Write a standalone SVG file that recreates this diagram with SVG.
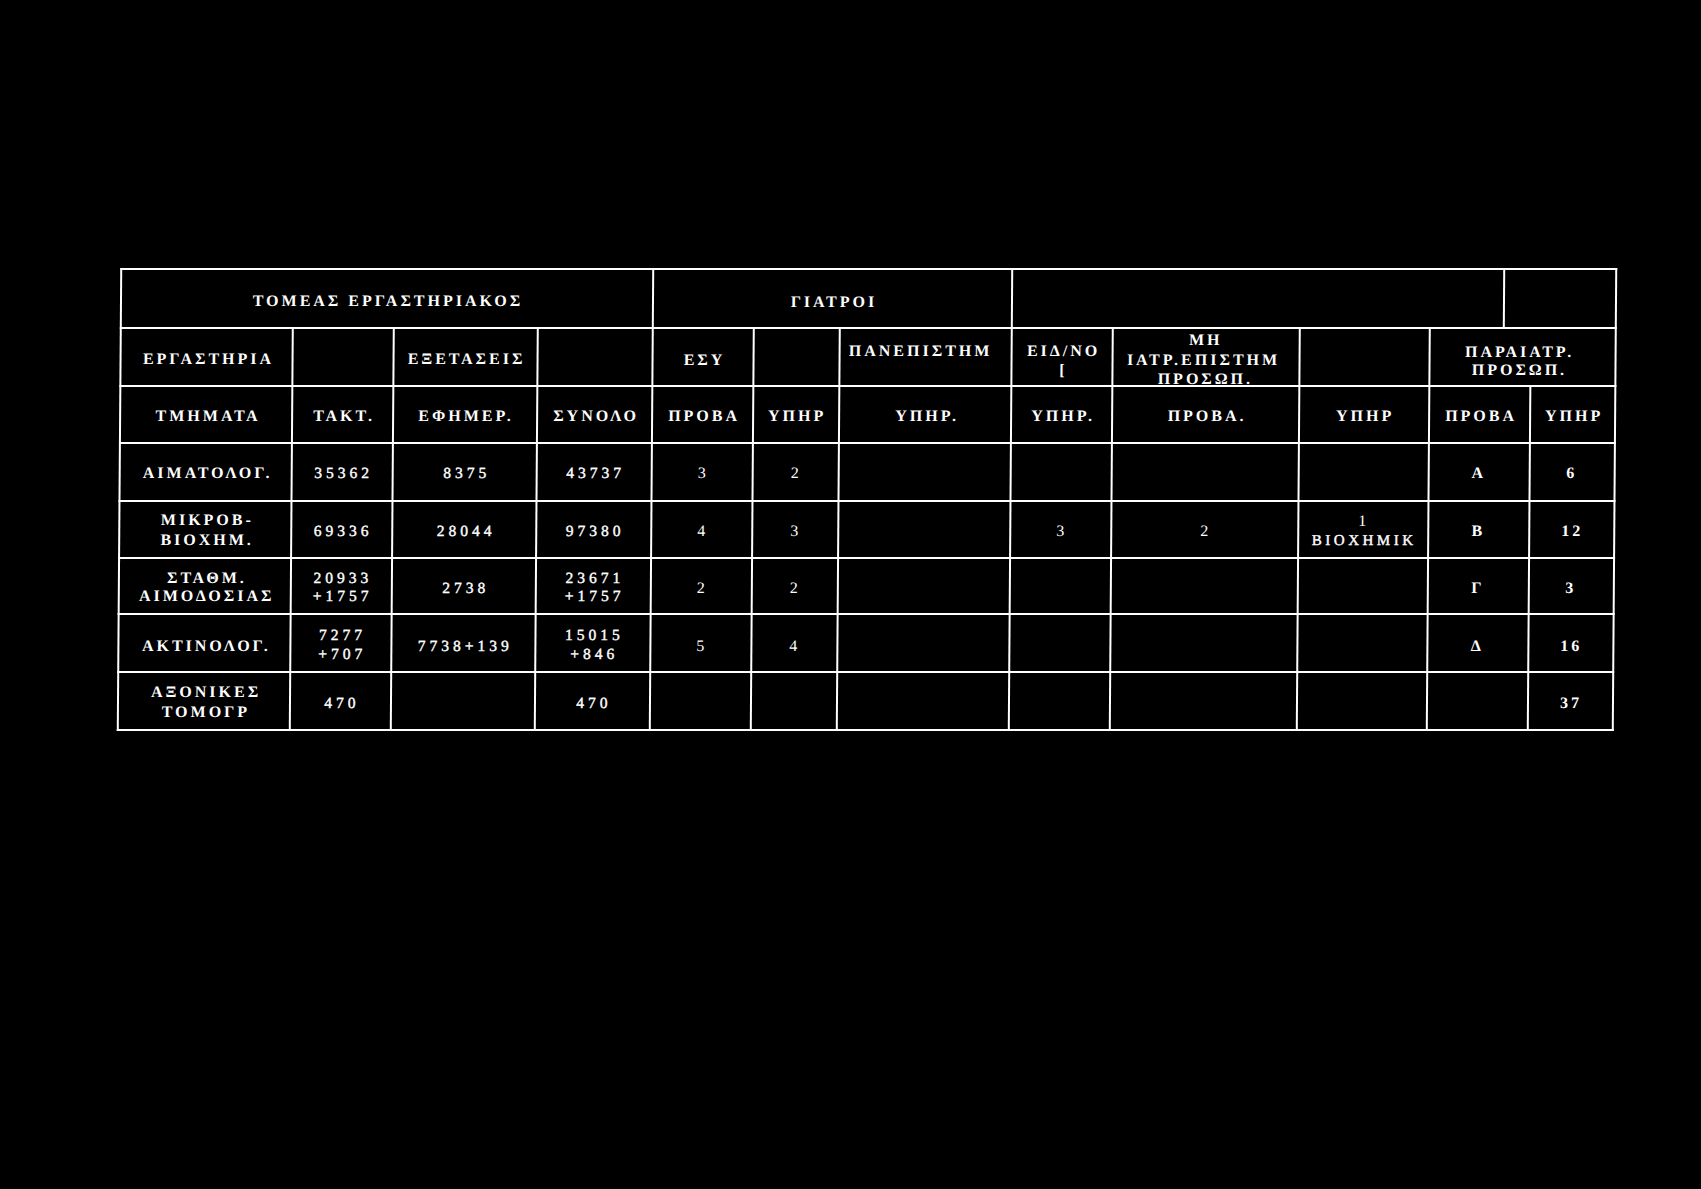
<svg xmlns="http://www.w3.org/2000/svg" width="1701" height="1189" viewBox="0 0 1701 1189">
<style>
.g line{stroke:#fff;stroke-width:2}
.h{font-family:"Liberation Serif","DejaVu Serif",serif;font-weight:bold;font-size:16px;letter-spacing:3px;fill:#fff;text-anchor:middle}
.n{font-family:"Liberation Serif","DejaVu Serif",serif;font-size:15.5px;letter-spacing:4px;fill:#fff;text-anchor:middle;stroke:#fff;stroke-width:0.4}
.d{font-family:"Liberation Serif","DejaVu Serif",serif;font-size:16px;fill:#fff;text-anchor:middle}
.r{font-family:"Liberation Serif","DejaVu Serif",serif;font-size:15px;letter-spacing:3.5px;fill:#fff;text-anchor:middle;stroke:#fff;stroke-width:0.4}
</style>
<rect width="1701" height="1189" fill="#000"/>
<g transform="matrix(1,0,-0.0075,1,2.25,0)">
<g id="grid" class="g">
<line x1="120" y1="269" x2="1617" y2="269"/>
<line x1="120" y1="328" x2="1617" y2="328"/>
<line x1="120" y1="386" x2="1617" y2="386"/>
<line x1="120" y1="443" x2="1617" y2="443"/>
<line x1="120" y1="501" x2="1617" y2="501"/>
<line x1="120" y1="558" x2="1617" y2="558"/>
<line x1="120" y1="614" x2="1617" y2="614"/>
<line x1="120" y1="672" x2="1617" y2="672"/>
<line x1="120" y1="730" x2="1617" y2="730"/>
<line x1="121" y1="268" x2="121" y2="731"/>
<line x1="1616" y1="268" x2="1616" y2="731"/>
<line x1="653" y1="268" x2="653" y2="731"/>
<line x1="1012" y1="268" x2="1012" y2="731"/>
<line x1="1504" y1="268" x2="1504" y2="328"/>
<line x1="293" y1="328" x2="293" y2="731"/>
<line x1="394" y1="328" x2="394" y2="731"/>
<line x1="538" y1="328" x2="538" y2="731"/>
<line x1="754" y1="328" x2="754" y2="731"/>
<line x1="840" y1="328" x2="840" y2="731"/>
<line x1="1113" y1="328" x2="1113" y2="731"/>
<line x1="1300" y1="328" x2="1300" y2="731"/>
<line x1="1430" y1="328" x2="1430" y2="731"/>
<line x1="1531" y1="386" x2="1531" y2="731"/>
</g>
<g id="header1">
<text class="h" x="388" y="306">ΤΟΜΕΑΣ ΕΡΓΑΣΤΗΡΙΑΚΟΣ</text>
<text class="h" x="834" y="307">ΓΙΑΤΡΟΙ</text>
</g>
<g id="header2">
<text class="h" x="209" y="364">ΕΡΓΑΣΤΗΡΙΑ</text>
<text class="h" x="467" y="364">ΕΞΕΤΑΣΕΙΣ</text>
<text class="h" x="705" y="365">ΕΣΥ</text>
<text class="h" x="921" y="356">ΠΑΝΕΠΙΣΤΗΜ</text>
<text class="h" x="1064" y="356">ΕΙΔ/ΝΟ</text>
<text class="h" x="1064" y="375">[</text>
<text class="h" x="1206" y="345">ΜΗ</text>
<text class="h" x="1204" y="365">ΙΑΤΡ.ΕΠΙΣΤΗΜ</text>
<text class="h" x="1206" y="384">ΠΡΟΣΩΠ.</text>
<text class="h" x="1520" y="357">ΠΑΡΑΙΑΤΡ.</text>
<text class="h" x="1520" y="375">ΠΡΟΣΩΠ.</text>
</g>
<g id="header3">
<text class="h" x="209" y="421">ΤΜΗΜΑΤΑ</text>
<text class="h" x="345" y="421">ΤΑΚΤ.</text>
<text class="h" x="467" y="421">ΕΦΗΜΕΡ.</text>
<text class="h" x="597" y="421">ΣΥΝΟΛΟ</text>
<text class="h" x="705" y="421">ΠΡΟΒΑ</text>
<text class="h" x="798" y="421">ΥΠΗΡ</text>
<text class="h" x="928" y="421">ΥΠΗΡ.</text>
<text class="h" x="1064" y="421">ΥΠΗΡ.</text>
<text class="h" x="1208" y="421">ΠΡΟΒΑ.</text>
<text class="h" x="1366" y="421">ΥΠΗΡ</text>
<text class="h" x="1482" y="421">ΠΡΟΒΑ</text>
<text class="h" x="1575" y="421">ΥΠΗΡ</text>
</g>
<g id="row-aimatolog">
<text class="h" x="209" y="478">ΑΙΜΑΤΟΛΟΓ.</text>
<text class="n" x="345" y="478">35362</text>
<text class="n" x="468" y="478">8375</text>
<text class="n" x="597" y="478">43737</text>
<text class="d" x="703" y="478">3</text>
<text class="d" x="796" y="478">2</text>
<text class="h" x="1480" y="478">Α</text>
<text class="h" x="1573" y="478">6</text>
</g>
<g id="row-mikrob">
<text class="h" x="209" y="525">ΜΙΚΡΟΒ-</text>
<text class="h" x="209" y="545">ΒΙΟΧΗΜ.</text>
<text class="n" x="345" y="536">69336</text>
<text class="n" x="468" y="536">28044</text>
<text class="n" x="597" y="536">97380</text>
<text class="d" x="703" y="536">4</text>
<text class="d" x="796" y="536">3</text>
<text class="d" x="1062" y="536">3</text>
<text class="d" x="1206" y="536">2</text>
<text class="d" x="1364" y="526">1</text>
<text class="r" x="1366" y="545">ΒΙΟΧΗΜΙΚ</text>
<text class="h" x="1480" y="536">Β</text>
<text class="h" x="1574" y="536">12</text>
</g>
<g id="row-stathm">
<text class="h" x="209" y="583">ΣΤΑΘΜ.</text>
<text class="h" x="209" y="601">ΑΙΜΟΔΟΣΙΑΣ</text>
<text class="n" x="345" y="583">20933</text>
<text class="n" x="345" y="601">+1757</text>
<text class="n" x="468" y="593">2738</text>
<text class="n" x="597" y="583">23671</text>
<text class="n" x="597" y="601">+1757</text>
<text class="d" x="703" y="593">2</text>
<text class="d" x="796" y="593">2</text>
<text class="h" x="1480" y="593">Γ</text>
<text class="h" x="1573" y="593">3</text>
</g>
<g id="row-aktinolog">
<text class="h" x="209" y="651">ΑΚΤΙΝΟΛΟΓ.</text>
<text class="n" x="345" y="640">7277</text>
<text class="n" x="345" y="659">+707</text>
<text class="n" x="468" y="651">7738+139</text>
<text class="n" x="597" y="640">15015</text>
<text class="n" x="597" y="659">+846</text>
<text class="d" x="703" y="651">5</text>
<text class="d" x="796" y="651">4</text>
<text class="h" x="1480" y="651">Δ</text>
<text class="h" x="1574" y="651">16</text>
</g>
<g id="row-axonikes">
<text class="h" x="209" y="697">ΑΞΟΝΙΚΕΣ</text>
<text class="h" x="209" y="717">ΤΟΜΟΓΡ</text>
<text class="n" x="345" y="708">470</text>
<text class="n" x="597" y="708">470</text>
<text class="h" x="1574" y="708">37</text>
</g>
</g>
</svg>
